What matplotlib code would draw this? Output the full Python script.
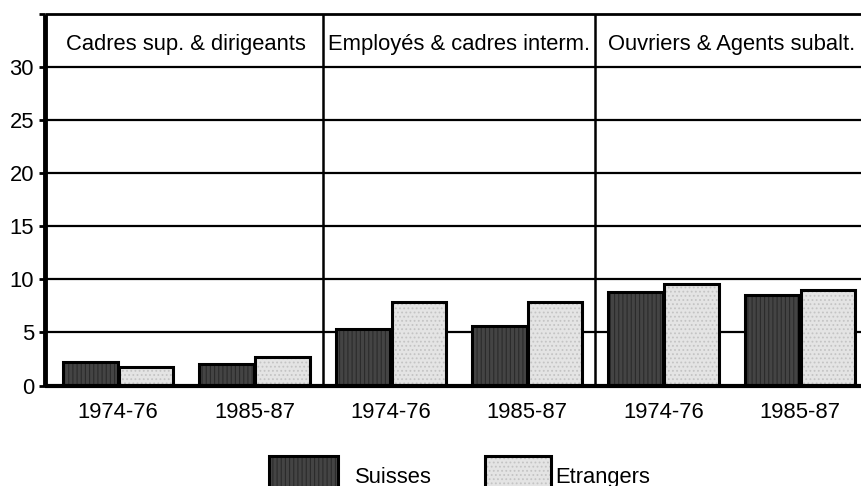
import matplotlib
matplotlib.use("Agg")
import matplotlib.pyplot as plt
from matplotlib.patches import Rectangle
import numpy as np

plt.rcParams['font.family'] = ['Liberation Sans', 'DejaVu Sans']
plt.rcParams['hatch.linewidth'] = 0.8

panels = ["Cadres sup. & dirigeants", "Employés & cadres interm.", "Ouvriers & Agents subalt."]
periods = ["1974-76", "1985-87"]
tick_labels = periods * 3
suisses = [2.2, 2.0, 5.3, 5.6, 8.8, 8.5]
etrangers = [1.7, 2.7, 7.9, 7.9, 9.6, 9.0]
series_names = ["Suisses", "Etrangers"]

W, H = 862, 486
fig = plt.figure(figsize=(W / 100, H / 100), dpi=100)
ax_left, ax_right = 45, 868
ax_top, ax_bottom = 14, 385.5
ax = fig.add_axes([ax_left / W, (H - ax_bottom) / H,
                   (ax_right - ax_left) / W, (ax_bottom - ax_top) / H])

fs = 15.8
x = np.arange(len(tick_labels))
bw = 0.40
off = 0.205
dark = '#444444'
light = '#e4e4e4'

# fills with texture
ax.bar(x - off, suisses, bw, color=dark, edgecolor='#2b2b2b', linewidth=0, hatch='||||', zorder=2)
ax.bar(x + off, etrangers, bw, color=light, edgecolor='#c4c4c4', linewidth=0, hatch='....', zorder=2)
# outlines
ax.bar(x - off, suisses, bw, fill=False, edgecolor='black', linewidth=2.2, zorder=3)
ax.bar(x + off, etrangers, bw, fill=False, edgecolor='black', linewidth=2.2, zorder=3)

ax.set_xlim(-0.537, 5.5)
ax.set_ylim(0, 35)
ax.set_yticks(np.arange(0, 36, 5))
ax.set_yticklabels([str(v) for v in range(0, 31, 5)] + [""])
ax.set_xticks(x)
ax.set_xticklabels(tick_labels)
ax.tick_params(axis='x', length=0, pad=12, labelsize=fs)
ax.tick_params(axis='y', length=4, width=2, pad=4, labelsize=fs, direction='out')

for v in range(5, 31, 5):
    ax.axhline(v, color='black', lw=1.6, zorder=0.5)
for sep in [1.5, 3.5]:
    ax.axvline(sep, color='black', lw=1.8, zorder=4)

for i, name in enumerate(panels):
    ax.text(2 * i + 0.5, 32.1, name, ha='center', va='center', fontsize=fs, zorder=5)

ax.spines['left'].set_linewidth(3.5)
ax.spines['bottom'].set_linewidth(3)
ax.spines['top'].set_linewidth(2)
ax.spines['right'].set_visible(False)
for s in ax.spines.values():
    s.set_zorder(5)
    s.set_capstyle('butt')

# legend drawn manually at the bottom
def fig_rect(x0, y0, x1, y1, **kw):
    r = Rectangle((x0 / W, (H - y1) / H), (x1 - x0) / W, (y1 - y0) / H,
                  transform=fig.transFigure, **kw)
    fig.patches.append(r)

fig_rect(269, 456, 338, 500, facecolor=dark, edgecolor='#2b2b2b', linewidth=0, hatch='||||')
fig_rect(269, 456, 338, 500, fill=False, edgecolor='black', linewidth=2.2)
fig.text(355 / W, (H - 477) / H, series_names[0], fontsize=fs, va='center', ha='left')
fig_rect(485, 456, 551, 500, facecolor=light, edgecolor='#c4c4c4', linewidth=0, hatch='....')
fig_rect(485, 456, 551, 500, fill=False, edgecolor='black', linewidth=2.2)
fig.text(555 / W, (H - 477) / H, series_names[1], fontsize=fs, va='center', ha='left')

fig.savefig("out.png", dpi=100)
